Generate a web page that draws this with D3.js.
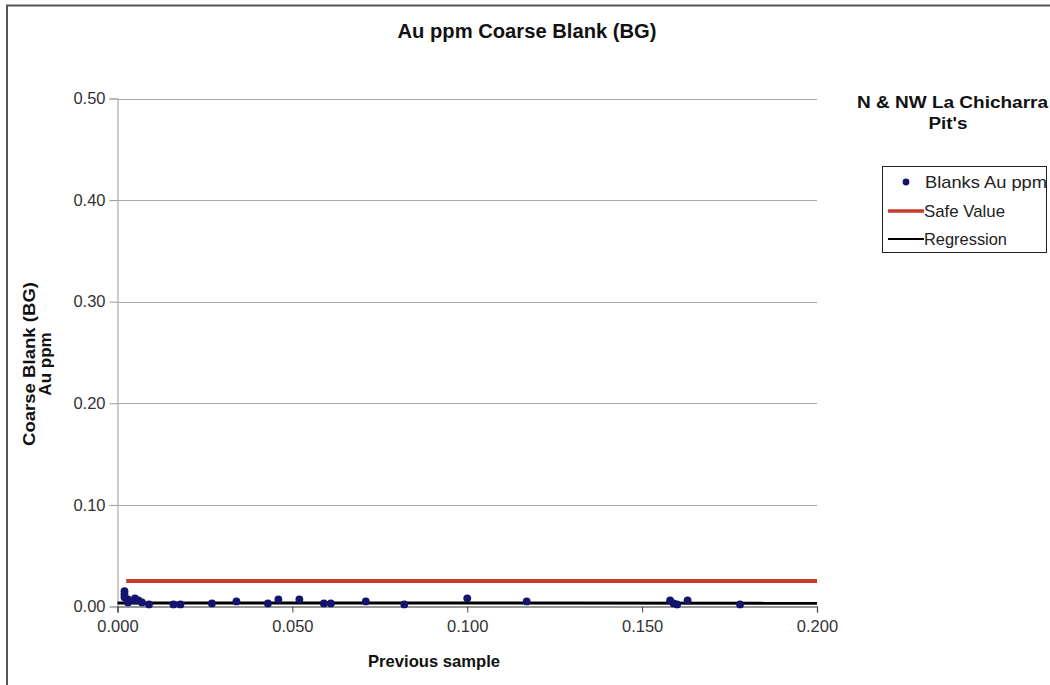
<!DOCTYPE html>
<html><head><meta charset="utf-8">
<script src="https://cdn.jsdelivr.net/npm/d3@7"></script>
<style>
body{margin:0;background:#fff;}
svg{display:block;font-family:"Liberation Sans",Arial,sans-serif;}
</style></head>
<body><svg id="c" width="1050" height="685"></svg>
<script>
// Data
const prevSample = [0.002,0.002,0.002,0.003,0.003,0.005,0.005,0.006,0.007,0.009,0.016,0.018,0.027,0.034,0.043,0.046,0.052,0.059,0.061,0.071,0.082,0.100,0.117,0.158,0.159,0.160,0.163,0.178];
const blankAu    = [0.015,0.012,0.009,0.007,0.004,0.008,0.006,0.006,0.004,0.002,0.002,0.002,0.003,0.005,0.003,0.007,0.007,0.003,0.003,0.005,0.002,0.008,0.005,0.006,0.003,0.002,0.006,0.002];
const safeX = [0.0025, 0.200];
const safeY = [0.025, 0.025];
const regX = [0.000, 0.200];
const regY = [0.0035, 0.0033];
const xTicks = [0, 0.05, 0.1, 0.15, 0.2];
const yTicks = [0, 0.1, 0.2, 0.3, 0.4, 0.5];
const legendLabels = ["Blanks Au ppm", "Safe Value", "Regression"];

const svg = d3.select("#c");
const L = 117.5, R = 817, T = 98.5, B = 606.5;
const x = d3.scaleLinear().domain([0, 0.2]).range([L, R]);
const y = d3.scaleLinear().domain([0, 0.5]).range([B, T]);

// outer border
svg.append("path").attr("d", `M7,685 V5.5 H1050`).attr("fill","none").attr("stroke","#555").attr("stroke-width",2);

// title
svg.append("text").attr("x", 527).attr("y", 38).attr("text-anchor","middle")
  .attr("font-weight","bold").attr("font-size",20).attr("fill","#111")
  .attr("textLength",259).attr("lengthAdjust","spacingAndGlyphs").text("Au ppm Coarse Blank (BG)");

// gridlines
svg.append("g").selectAll("line").data(yTicks.filter(d=>d>0)).join("line")
  .attr("x1", L).attr("x2", R).attr("y1", d=>Math.round(y(d))+0.5).attr("y2", d=>Math.round(y(d))+0.5)
  .attr("stroke","#a8a8a8").attr("stroke-width",1.2);

// y axis
const yAx = svg.append("g").attr("transform",`translate(${L},0)`)
  .call(d3.axisLeft(y).tickValues(yTicks).tickFormat(d3.format(".2f")).tickSize(8).tickPadding(4));
yAx.select(".domain").attr("stroke","#aaa").attr("stroke-width",1.2);
yAx.selectAll(".tick line").attr("stroke","#999");
yAx.selectAll("text").attr("font-size",16.5).attr("fill","#333").attr("font-family","'Liberation Sans',Arial");

// x axis
const xAx = svg.append("g").attr("transform",`translate(0,${B})`)
  .call(d3.axisBottom(x).tickValues(xTicks).tickFormat(d3.format(".3f")).tickSize(6).tickPadding(8));
xAx.select(".domain").attr("stroke","#333").attr("stroke-width",1.2);
xAx.selectAll(".tick line").attr("stroke","#444");
xAx.selectAll("text").attr("font-size",16.5).attr("fill","#333").attr("font-family","'Liberation Sans',Arial");

// axis titles
svg.append("text").attr("x", 434).attr("y", 667).attr("text-anchor","middle")
  .attr("font-weight","bold").attr("font-size",17).attr("fill","#111")
  .attr("textLength",132).attr("lengthAdjust","spacingAndGlyphs").text("Previous sample");
const yt = svg.append("text").attr("transform","translate(35,364) rotate(-90)").attr("text-anchor","middle")
  .attr("font-weight","bold").attr("font-size",17).attr("fill","#111");
yt.append("tspan").attr("x",0).attr("dy",0).attr("textLength",164).attr("lengthAdjust","spacingAndGlyphs").text("Coarse Blank (BG)");
yt.append("tspan").attr("x",0).attr("dy",16).text("Au ppm");

// safe value line
const line = d3.line().x(d=>x(d[0])).y(d=>y(d[1]));
svg.append("path").attr("d", line(d3.zip(safeX, safeY))).attr("stroke","#c83a2a").attr("stroke-width",4).attr("fill","none");
// regression
svg.append("path").attr("d", line(d3.zip(regX, regY))).attr("stroke","#000").attr("stroke-width",3).attr("fill","none");

// points
svg.append("g").selectAll("circle").data(d3.zip(prevSample, blankAu)).join("circle")
  .attr("cx", d=>x(d[0])).attr("cy", d=>y(d[1])).attr("r", 3.9).attr("fill","#14146e");

// side title
svg.append("text").attr("x", 857).attr("y", 108).attr("font-weight","bold").attr("font-size",16).attr("fill","#111")
  .attr("textLength",191).attr("lengthAdjust","spacingAndGlyphs").text("N & NW La Chicharra");
svg.append("text").attr("x", 948).attr("y", 129).attr("text-anchor","middle").attr("font-weight","bold").attr("font-size",16).attr("fill","#111")
  .attr("textLength",39).attr("lengthAdjust","spacingAndGlyphs").text("Pit's");

// legend
const lg = svg.append("g");
lg.append("rect").attr("x", 882.5).attr("y", 166.5).attr("width", 164).attr("height", 86).attr("fill","#fff").attr("stroke","#222").attr("stroke-width",1);
const ly = [182, 211, 239];
const lw = [122, 81, 83];
lg.append("circle").attr("cx", 906).attr("cy", ly[0]).attr("r", 3.4).attr("fill","#14146e");
lg.append("line").attr("x1", 888).attr("x2", 924).attr("y1", ly[1]).attr("y2", ly[1]).attr("stroke","#c83a2a").attr("stroke-width",3.5);
lg.append("line").attr("x1", 888).attr("x2", 924).attr("y1", ly[2]).attr("y2", ly[2]).attr("stroke","#000").attr("stroke-width",2);
lg.selectAll("text.l").data(legendLabels).join("text").attr("class","l")
  .attr("x", (d,i)=> i===0 ? 925 : 924).attr("y",(d,i)=>ly[i]+6)
  .attr("font-size",17).attr("fill","#222")
  .attr("textLength",(d,i)=>lw[i]).attr("lengthAdjust","spacingAndGlyphs").text(d=>d);
</script></body></html>
